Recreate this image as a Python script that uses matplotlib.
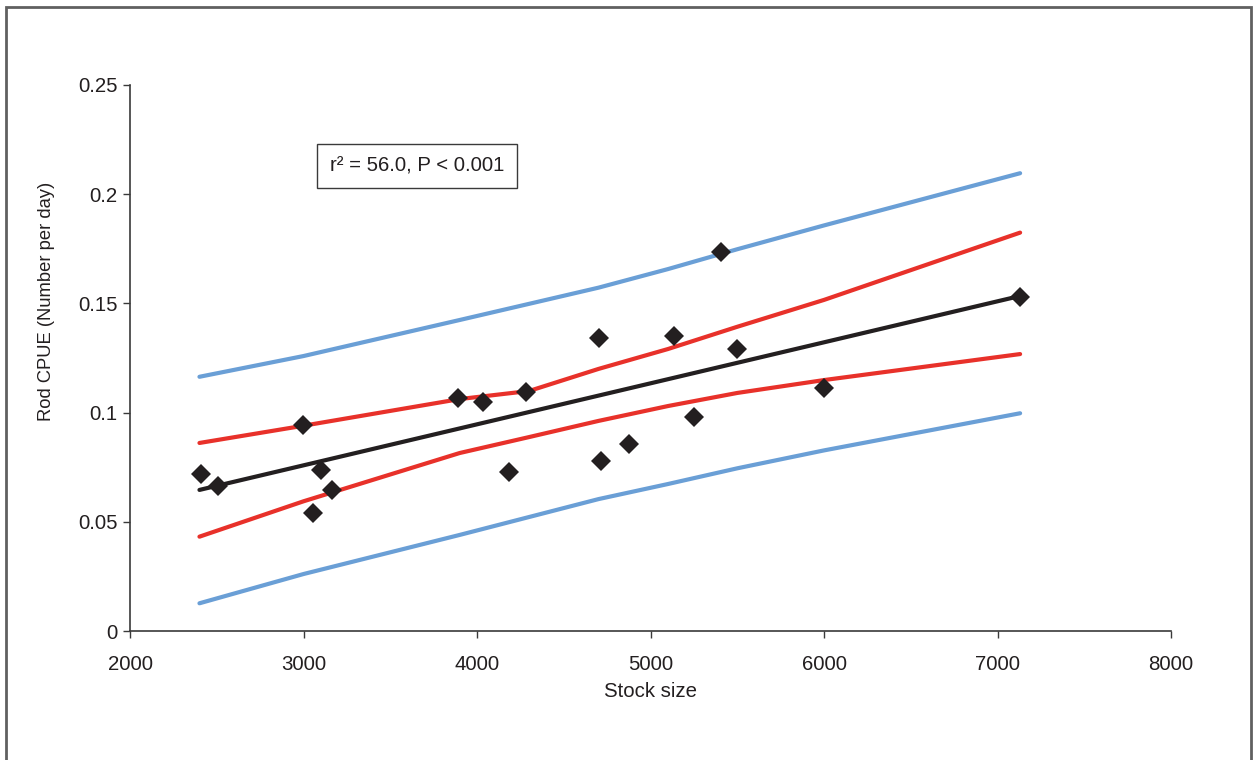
import matplotlib.pyplot as plt
from matplotlib.patches import Rectangle

plt.rcParams['font.family'] = ['Liberation Sans', 'DejaVu Sans']

# observed points
stock = [2409, 2507, 2997, 3055, 3101, 3164, 3890, 4035, 4184, 4282,
         4703, 4715, 4876, 5135, 5251, 5406, 5499, 6000, 7130]
cpue = [0.0719, 0.0664, 0.0943, 0.0540, 0.0737, 0.0646, 0.1067, 0.1049, 0.0728, 0.1094,
        0.1342, 0.0778, 0.0856, 0.1351, 0.0980, 0.1735, 0.1291, 0.1113, 0.1529]

# regression line
fit_x = [2400, 7130]
fit_y = [0.0646, 0.1534]

# bands
band_x = [2400, 3000, 3900, 4300, 4700, 5100, 5500, 6000, 7130]
ci_upper = [0.0861, 0.0940, 0.1062, 0.1099, 0.1200, 0.1291, 0.1393, 0.1516, 0.1824]
ci_lower = [0.0432, 0.0594, 0.0815, 0.0888, 0.0962, 0.1030, 0.1090, 0.1149, 0.1268]
pi_upper = [0.1164, 0.1259, 0.1424, 0.1498, 0.1572, 0.1657, 0.1748, 0.1857, 0.2096]
pi_lower = [0.0127, 0.0261, 0.0440, 0.0522, 0.0604, 0.0673, 0.0745, 0.0827, 0.0997]

BLUE = "#6a9fd6"
RED = "#e8312a"
DARK = "#231f20"
FS = 14.7

fig = plt.figure(figsize=(12.53, 7.6), dpi=100)
ax = fig.add_axes([0.1038, 0.1697, 0.8308, 0.7185])

lw = 3.0
ax.plot(band_x, pi_upper, color=BLUE, lw=lw, solid_capstyle="round")
ax.plot(band_x, pi_lower, color=BLUE, lw=lw, solid_capstyle="round")
ax.plot(band_x, ci_upper, color=RED, lw=lw, solid_capstyle="round")
ax.plot(band_x, ci_lower, color=RED, lw=lw, solid_capstyle="round")
ax.plot(fit_x, fit_y, color=DARK, lw=lw, solid_capstyle="round")
ax.plot(stock, cpue, linestyle="none", marker="D", markersize=10.5,
        color=DARK, markeredgewidth=0)

ax.set_xlim(2000, 8000)
ax.set_ylim(0, 0.25)
ax.set_xticks([2000, 3000, 4000, 5000, 6000, 7000, 8000])
ax.set_yticks([0, 0.05, 0.1, 0.15, 0.2, 0.25])
ax.set_yticklabels(["0", "0.05", "0.1", "0.15", "0.2", "0.25"])

for side in ["top", "right"]:
    ax.spines[side].set_visible(False)
for side in ["left", "bottom"]:
    ax.spines[side].set_color("#3a3a3a")
    ax.spines[side].set_linewidth(1.2)
ax.tick_params(direction="out", length=5, width=1.0, color="#3a3a3a",
               labelsize=FS, labelcolor=DARK)
ax.tick_params(axis="x", pad=12)
ax.tick_params(axis="y", pad=4)

ax.set_xlabel("Stock size", fontsize=FS, color=DARK, labelpad=6)
fig.text(0.0375, 0.603, "Rod CPUE (Number per day)", rotation=90,
         ha="center", va="center", fontsize=13.2, color=DARK)

fig.text(0.333, 0.782, "r\u00b2 = 56.0, P < 0.001", ha="center", va="center",
         fontsize=FS, color=DARK,
         bbox=dict(boxstyle="square,pad=0.62", facecolor="white",
                   edgecolor="#3a3a3a", linewidth=1.0))

# outer frame
fig.patches.append(Rectangle((0.0045, -0.1), 0.994, 1.091, transform=fig.transFigure,
                             fill=False, edgecolor="#606060", linewidth=2.0))

fig.savefig("out.png", dpi=100)
